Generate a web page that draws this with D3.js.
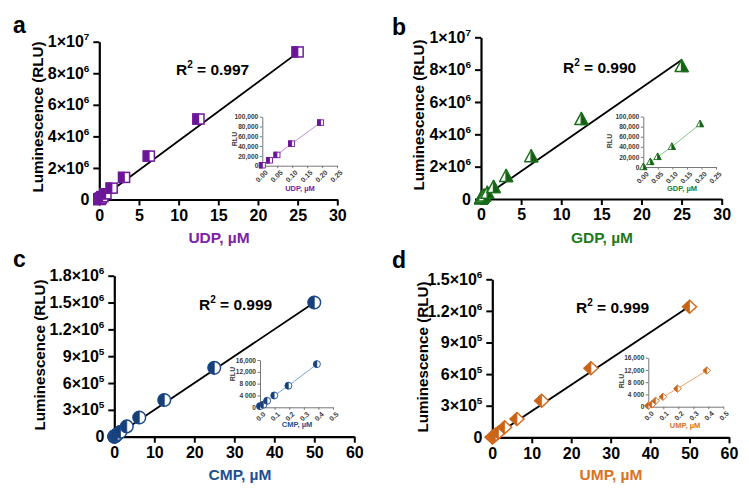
<!DOCTYPE html>
<html><head><meta charset="utf-8">
<script src="https://cdn.jsdelivr.net/npm/d3@7/dist/d3.min.js"></script>
<style>
body{margin:0;background:#fff;}
text{font-family:"Liberation Sans",Arial,sans-serif;font-weight:bold;}
</style></head>
<body><svg id="c" width="749" height="493"></svg>
<script>
// ---------- data ----------
const udpX = [0, 0.024, 0.049, 0.098, 0.195, 0.39, 0.78, 1.56, 3.125, 6.25, 12.5, 25];
const udpY = [1000, 11000, 22000, 45000, 88000, 180000, 360000, 720000, 1400000, 2750000, 5100000, 9350000];
const udpFit = [[0, 0], [25.4, 9450000]];
const udpInsetX = [0, 0.024, 0.049, 0.098, 0.195];
const udpInsetY = [1000, 11000, 22000, 45000, 88000];

const gdpX = [0, 0.024, 0.049, 0.098, 0.195, 0.39, 0.78, 1.56, 3.125, 6.25, 12.5, 25];
const gdpY = [0, 10000, 20000, 40000, 85000, 170000, 340000, 700000, 1380000, 2600000, 4900000, 8180000];
const gdpFit = [[0, 0], [25, 8600000]];
const gdpInsetX = [0, 0.024, 0.049, 0.098, 0.195];
const gdpInsetY = [0, 10000, 20000, 40000, 85000];

const cmpX = [0, 0.024, 0.049, 0.098, 0.195, 0.39, 0.78, 1.56, 3.125, 6.25, 12.5, 25, 50];
const cmpY = [400, 900, 2200, 4000, 7300, 14600, 28000, 55000, 115000, 215000, 410000, 770000, 1500000];
const cmpFit = [[0, 0], [50, 1500000]];
const cmpInsetX = [0, 0.024, 0.049, 0.098, 0.195, 0.39];
const cmpInsetY = [400, 900, 2200, 4000, 7300, 14600];

const umpX = [0, 0.024, 0.049, 0.098, 0.195, 0.39, 0.78, 1.56, 3.125, 6.25, 12.5, 25, 50];
const umpY = [300, 750, 1900, 3250, 5900, 11800, 23000, 45000, 95000, 174000, 347000, 655000, 1240000];
const umpFit = [[0, 0], [50, 1245000]];
const umpInsetX = [0, 0.024, 0.049, 0.098, 0.195, 0.39];
const umpInsetY = [300, 750, 1900, 3250, 5900, 11800];

const yTicks10M = [0, 2e6, 4e6, 6e6, 8e6, 1e7];
const yLabels10M = ["0", "2×10^6", "4×10^6", "6×10^6", "8×10^6", "1×10^7"];
const yTicksC = [0, 3e5, 6e5, 9e5, 1.2e6, 1.5e6, 1.8e6];
const yLabelsC = ["0", "3×10^5", "6×10^5", "9×10^5", "1.2×10^6", "1.5×10^6", "1.8×10^6"];
const yTicksD = [0, 3e5, 6e5, 9e5, 1.2e6, 1.5e6];
const yLabelsD = ["0", "3×10^5", "6×10^5", "9×10^5", "1.2×10^6", "1.5×10^6"];
const xTicks30 = [0, 5, 10, 15, 20, 25, 30];
const xTicks60 = [0, 10, 20, 30, 40, 50, 60];
const insetXTicksAB = [0, 0.05, 0.10, 0.15, 0.20, 0.25];
const insetXLabelsAB = ["0.00", "0.05", "0.10", "0.15", "0.20", "0.25"];
const insetYTicksAB = [0, 20000, 40000, 60000, 80000, 100000];
const insetYLabelsAB = ["0", "20,000", "40,000", "60,000", "80,000", "100,000"];
const insetXTicksCD = [0, 0.1, 0.2, 0.3, 0.4, 0.5];
const insetXLabelsCD = ["0.0", "0.1", "0.2", "0.3", "0.4", "0.5"];
const insetYTicksCD = [0, 4000, 8000, 12000, 16000];
const insetYLabelsCD = ["0", "4 000", "8 000", "12,000", "16,000"];

const panelLetters = ["a", "b", "c", "d"];
const xTitles = ["UDP, µM", "GDP, µM", "CMP, µM", "UMP, µM"];
const r2Values = ["0.997", "0.990", "0.999", "0.999"];

// ---------- layout / style ----------
const panels = [
  {letter:panelLetters[0], lx:13, ly:33, x:udpX, y:udpY, fit:udpFit, ix:udpInsetX, iy:udpInsetY,
   xr:[99.3,337.3], xd:[0,30], xt:xTicks30, yr:[199.5,41.7], yd:[0,1e7], yt:yTicks10M, yl:yLabels10M,
   ixr:[262.3,337], ixd:[0,0.25], ixt:insetXTicksAB, ixl:insetXLabelsAB,
   iyr:[165.7,116.7], iyd:[0,100000], iyt:insetYTicksAB, iyl:insetYLabelsAB,
   title:xTitles[0], tx:219, ty:243, ytx:37, yty:117, r2:r2Values[0], r2x:176, r2y:75,
   ititle:[300,191], irlu:[234,139],
   color:"#6f1a9c", fill:"#6a1596", tcolor:"#7b22a8", icolor:"#c690da", shape:"square"},
  {letter:panelLetters[1], lx:392, ly:35, x:gdpX, y:gdpY, fit:gdpFit, ix:gdpInsetX, iy:gdpInsetY,
   xr:[481,721.7], xd:[0,30], xt:xTicks30, yr:[199,37.3], yd:[0,1e7], yt:yTicks10M, yl:yLabels10M,
   ixr:[643.3,716], ixd:[0,0.25], ixt:insetXTicksAB, ixl:insetXLabelsAB,
   iyr:[167,116.5], iyd:[0,100000], iyt:insetYTicksAB, iyl:insetYLabelsAB,
   title:xTitles[1], tx:602, ty:243, ytx:418, yty:115, r2:r2Values[1], r2x:563, r2y:73,
   ititle:[682,191], irlu:[609,141],
   color:"#1b6e1b", fill:"#145c14", tcolor:"#1f7a1f", icolor:"#86c986", shape:"triangle"},
  {letter:panelLetters[2], lx:13, ly:267, x:cmpX, y:cmpY, fit:cmpFit, ix:cmpInsetX, iy:cmpInsetY,
   xr:[114.3,354.3], xd:[0,60], xt:xTicks60, yr:[436.7,275.7], yd:[0,1.8e6], yt:yTicksC, yl:yLabelsC,
   ixr:[260,333], ixd:[0,0.5], ixt:insetXTicksCD, ixl:insetXLabelsCD,
   iyr:[407.3,360], iyd:[0,16000], iyt:insetYTicksCD, iyl:insetYLabelsCD,
   title:xTitles[2], tx:240, ty:480, ytx:39, yty:355, r2:r2Values[2], r2x:199, r2y:310,
   ititle:[297,427], irlu:[232,374],
   color:"#1c4a8a", fill:"#173f7a", tcolor:"#22508f", icolor:"#78a8d8", shape:"circle"},
  {letter:panelLetters[3], lx:392, ly:268, x:umpX, y:umpY, fit:umpFit, ix:umpInsetX, iy:umpInsetY,
   xr:[492.3,729], xd:[0,60], xt:xTicks60, yr:[437.3,279.3], yd:[0,1.5e6], yt:yTicksD, yl:yLabelsD,
   ixr:[648.3,723.3], ixd:[0,0.5], ixt:insetXTicksCD, ixl:insetXLabelsCD,
   iyr:[406.7,357.7], iyd:[0,16000], iyt:insetYTicksCD, iyl:insetYLabelsCD,
   title:xTitles[3], tx:611, ty:480, ytx:422, yty:357, r2:r2Values[3], r2x:576, r2y:313,
   ititle:[685,428], irlu:[621,381],
   color:"#d06a1c", fill:"#c8641a", tcolor:"#d9731f", icolor:"#f2a468", shape:"diamond"}
];

const svg = d3.select("#c");

function addSup(sel, label){
  const parts = label.split("^");
  sel.text(null);
  sel.append("tspan").text(parts[0]);
  if(parts.length>1){
    sel.append("tspan").attr("dy",-7).attr("font-size","0.62em").text(parts[1]);
  }
}

function marker(g, shape, cx, cy, k, color, fill, sw){
  if(shape==="square"){
    const w=11*k, h=10*k;
    g.append("rect").attr("x",cx-w/2).attr("y",cy-h/2).attr("width",w).attr("height",h)
      .attr("fill","#fff").attr("stroke",color).attr("stroke-width",sw);
    g.append("rect").attr("x",cx-w/2).attr("y",cy-h/2).attr("width",w/2).attr("height",h)
      .attr("fill",fill).attr("stroke",color).attr("stroke-width",sw);
  } else if(shape==="triangle"){
    const w=13*k, h=12*k;
    g.append("path").attr("d",`M${cx},${cy-h*0.6}L${cx+w/2},${cy+h*0.4}L${cx-w/2},${cy+h*0.4}Z`)
      .attr("fill","#fff").attr("stroke",color).attr("stroke-width",sw).attr("stroke-linejoin","round");
    g.append("path").attr("d",`M${cx},${cy-h*0.6}L${cx+w/2},${cy+h*0.4}L${cx},${cy+h*0.4}Z`)
      .attr("fill",fill).attr("stroke",color).attr("stroke-width",sw).attr("stroke-linejoin","round");
  } else if(shape==="circle"){
    const r=6.3*k;
    g.append("circle").attr("cx",cx).attr("cy",cy).attr("r",r)
      .attr("fill","#fff").attr("stroke",color).attr("stroke-width",sw);
    g.append("path").attr("d",`M${cx},${cy-r}A${r},${r} 0 0 0 ${cx},${cy+r}Z`)
      .attr("fill",fill).attr("stroke",color).attr("stroke-width",sw*0.5);
  } else {
    const w=14*k, h=13*k;
    g.append("path").attr("d",`M${cx},${cy-h/2}L${cx+w/2},${cy}L${cx},${cy+h/2}L${cx-w/2},${cy}Z`)
      .attr("fill","#fff").attr("stroke",color).attr("stroke-width",sw);
    g.append("path").attr("d",`M${cx},${cy-h/2}L${cx-w/2},${cy}L${cx},${cy+h/2}Z`)
      .attr("fill",fill).attr("stroke",color).attr("stroke-width",sw*0.5);
  }
}

panels.forEach(p=>{
  const g = svg.append("g");
  const x = d3.scaleLinear().domain(p.xd).range(p.xr);
  const y = d3.scaleLinear().domain(p.yd).range(p.yr);

  g.append("text").attr("x",p.lx).attr("y",p.ly).attr("font-size",23).attr("fill","#000").text(p.letter);

  const xAxis = d3.axisBottom(x).tickValues(p.xt).tickSize(6).tickSizeOuter(0).tickPadding(4);
  const gx = g.append("g").attr("transform",`translate(0,${p.yr[0]})`).call(xAxis);
  gx.select(".domain").attr("stroke","#000").attr("stroke-width",2.2);
  gx.selectAll(".tick line").attr("stroke","#000").attr("stroke-width",2);
  gx.selectAll(".tick text").attr("font-size",16).attr("fill","#000")
    .attr("font-family","Liberation Sans, Arial, sans-serif").attr("font-weight","bold");

  const yAxis = d3.axisLeft(y).tickValues(p.yt).tickSize(6).tickSizeOuter(0).tickPadding(4)
    .tickFormat((d,i)=>p.yl[i]);
  const gy = g.append("g").attr("transform",`translate(${p.xr[0]},0)`).call(yAxis);
  gy.select(".domain").attr("stroke","#000").attr("stroke-width",2.2);
  gy.selectAll(".tick line").attr("stroke","#000").attr("stroke-width",2);
  gy.selectAll(".tick text").attr("font-size",16).attr("fill","#000")
    .attr("font-family","Liberation Sans, Arial, sans-serif").attr("font-weight","bold")
    .each(function(d,i){ addSup(d3.select(this), p.yl[i]); });

  g.append("text").attr("x",p.tx).attr("y",p.ty).attr("text-anchor","middle")
    .attr("font-size",15.5).attr("fill",p.tcolor).text(p.title);
  g.append("text").attr("transform",`translate(${p.ytx},${p.yty}) rotate(-90)`)
    .attr("text-anchor","middle").attr("dominant-baseline","central")
    .attr("font-size",15.2).attr("fill","#000").text("Luminescence (RLU)");

  g.append("line").attr("x1",x(p.fit[0][0])).attr("y1",y(p.fit[0][1]))
    .attr("x2",x(p.fit[1][0])).attr("y2",y(p.fit[1][1]))
    .attr("stroke","#000").attr("stroke-width",1.8);

  const gm = g.append("g");
  p.x.forEach((xv,i)=>marker(gm,p.shape,x(xv),y(p.y[i]),1,p.color,p.fill,1.5));

  const rt = g.append("text").attr("x",p.r2x).attr("y",p.r2y).attr("font-size",15.5).attr("fill","#000");
  rt.append("tspan").text("R");
  rt.append("tspan").attr("dy",-7).attr("font-size",10).text("2");
  rt.append("tspan").attr("dy",7).text(" = " + p.r2);

  // inset
  const ix = d3.scaleLinear().domain(p.ixd).range(p.ixr);
  const iy = d3.scaleLinear().domain(p.iyd).range(p.iyr);
  const gi = g.append("g");
  const ixAxis = d3.axisBottom(ix).tickValues(p.ixt).tickSize(2.5).tickSizeOuter(0).tickPadding(2)
    .tickFormat((d,i)=>p.ixl[i]);
  const gix = gi.append("g").attr("transform",`translate(0,${p.iyr[0]})`).call(ixAxis);
  gix.select(".domain").attr("stroke","#777").attr("stroke-width",1);
  gix.selectAll(".tick line").attr("stroke","#777");
  gix.selectAll(".tick text").attr("font-size",7).attr("fill","#3a3a3a")
    .attr("font-family","Liberation Sans, Arial, sans-serif").attr("font-weight","bold")
    .attr("text-anchor","end").attr("dy",null).attr("y",0)
    .attr("transform","translate(2,4) rotate(-45)")
    .attr("dominant-baseline","hanging");
  const iyAxis = d3.axisLeft(iy).tickValues(p.iyt).tickSize(2.5).tickSizeOuter(0).tickPadding(1.5)
    .tickFormat((d,i)=>p.iyl[i]);
  const giy = gi.append("g").attr("transform",`translate(${p.ixr[0]},0)`).call(iyAxis);
  giy.select(".domain").attr("stroke","#777").attr("stroke-width",1);
  giy.selectAll(".tick line").attr("stroke","#777");
  giy.selectAll(".tick text").attr("font-size",6.6).attr("fill","#3a3a3a")
    .attr("font-family","Liberation Sans, Arial, sans-serif").attr("font-weight","bold");
  gi.append("text").attr("x",p.ititle[0]).attr("y",p.ititle[1]).attr("text-anchor","middle")
    .attr("font-size",7.5).attr("fill",p.tcolor).text(p.title);
  gi.append("text").attr("transform",`translate(${p.irlu[0]},${p.irlu[1]}) rotate(-90)`)
    .attr("text-anchor","middle").attr("dominant-baseline","central")
    .attr("font-size",7).attr("fill","#3a3a3a").text("RLU");
  const line = d3.line().x((d,i)=>ix(p.ix[i])).y((d,i)=>iy(p.iy[i]));
  gi.append("path").attr("d",line(p.ix)).attr("fill","none").attr("stroke",p.icolor).attr("stroke-width",1);
  p.ix.forEach((xv,i)=>marker(gi,p.shape,ix(xv),iy(p.iy[i]),0.55,p.color,p.fill,0.9));
});
</script></body></html>
